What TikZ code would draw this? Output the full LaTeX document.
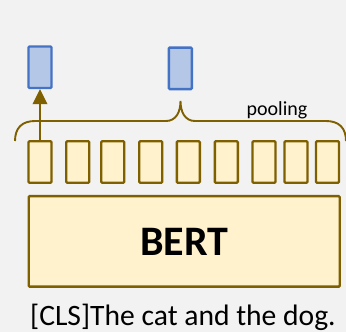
\documentclass[tikz,border=0pt]{standalone}
\usepackage{fontspec}
\setmainfont{Carlito}
\usepackage{tikz}
\usetikzlibrary{positioning,arrows.meta}

\definecolor{bgcol}{HTML}{F2F2F2}
\definecolor{bertfill}{HTML}{FFF2CC}
\definecolor{bertline}{HTML}{7F6000}
\definecolor{vecfill}{HTML}{B4C7E7}
\definecolor{vecline}{HTML}{4472C4}

\tikzset{
    token/.style={draw=bertline, fill=bertfill, line width=2.4pt, rounded corners=1pt,
                  minimum width=23pt, minimum height=41.5pt, inner sep=0pt},
    vec/.style={draw=vecline, fill=vecfill, line width=2.4pt, rounded corners=1pt,
                minimum width=23pt, minimum height=41.5pt, inner sep=0pt}
}

\begin{document}
\begin{tikzpicture}[x=1pt, y=-1pt]
    \fill[bgcol] (0,0) rectangle (346,332);
    \useasboundingbox (0,0) rectangle (346,332);

    % encoder block
    \node[token, minimum width=311pt, minimum height=90.5pt] (bert) at (184.2,241.4)
        {\fontsize{42}{48}\selectfont\bfseries BERT};
    \node[anchor=base west, inner sep=0pt] (input) at (30,325.2)
        {\fontsize{29.6}{35}\selectfont [CLS]The cat and the dog.};

    % token outputs
    \foreach \x [count=\i] in {40,77.7,112.7,150.7,188.3,226.3,264,296,327.5}
        \node[token] (t\i) at (\x,162) {};

    % sentence vectors
    \node[vec] (cls) at (40,67.2) {};
    \node[vec] (pool) at (180.3,68.3) {};

    \draw[bertline, line width=2.2pt, -{Triangle[length=15pt, width=14.5pt]}] (t1.north) -- (cls.south);

    % pooling brace
    \coordinate (bl) at (15,141);
    \coordinate (bt) at (180.5,101);
    \coordinate (br) at (346,141);
    \draw[bertline, line width=1.9pt]
        (bl) .. controls (15,128) and (22,121) .. (35,121) -- (166,121)
        .. controls (176,121) and (180.5,112) .. (bt)
        .. controls (180.5,112) and (185,121) .. (195,121) -- (326,121)
        .. controls (339,121) and (br |- 0,128) .. (br);
    \node[anchor=base, inner sep=0pt] (plabel) at (277,115.7)
        {\fontsize{20}{24}\selectfont pooling};
\end{tikzpicture}
\end{document}
